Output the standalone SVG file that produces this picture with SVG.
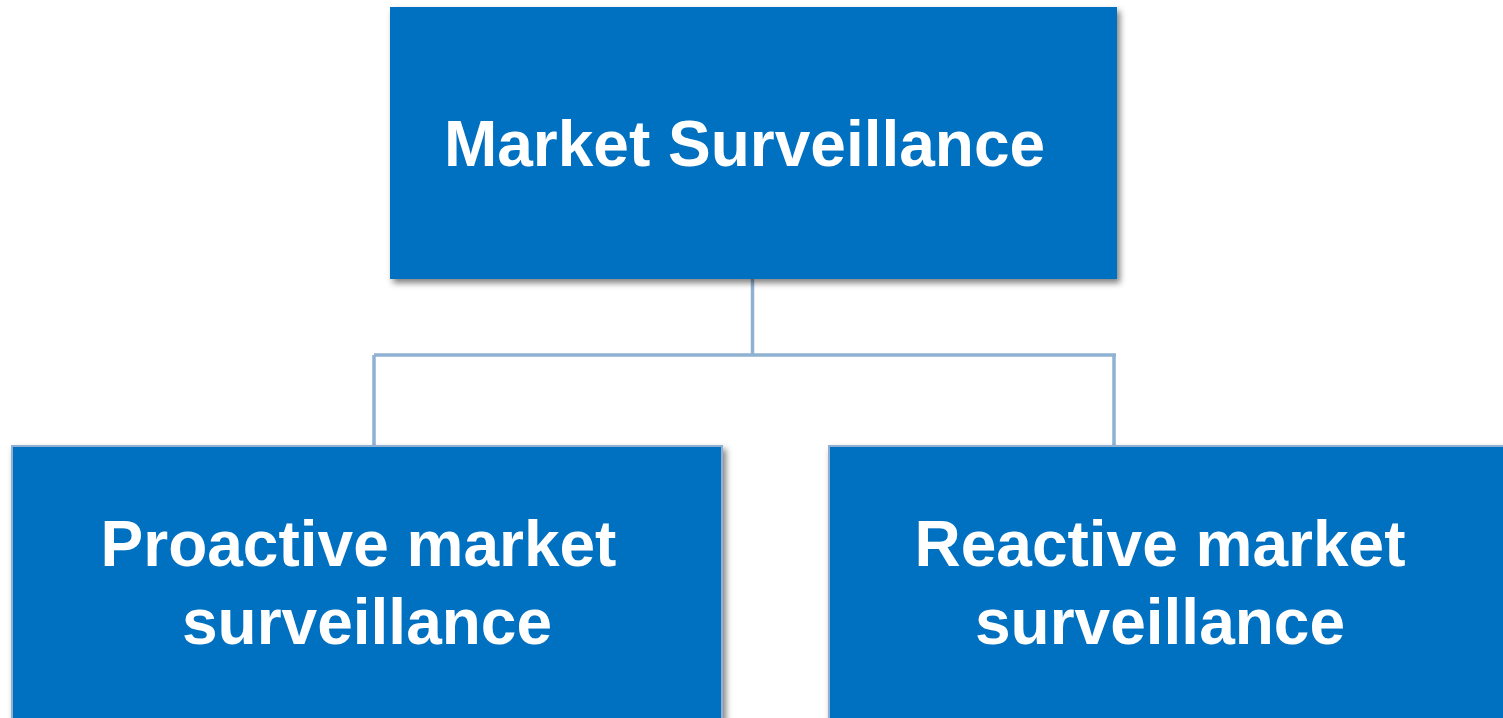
<svg xmlns="http://www.w3.org/2000/svg" width="1503" height="718" viewBox="0 0 1503 718">
<defs>
<filter id="sh" x="-5%" y="-5%" width="115%" height="120%">
<feDropShadow dx="3" dy="4" stdDeviation="3" flood-color="#000" flood-opacity="0.5"/>
</filter>
<style>
.box{fill:#0070c0;filter:url(#sh)}
.bb{stroke:#8fb0d3;stroke-width:2}
.t{font-family:"Liberation Sans",Arial,sans-serif;font-weight:bold;font-size:64px;fill:#fff;text-anchor:middle}
.c{stroke:#8fb1d2;stroke-width:3.5;fill:none}
</style>
</defs>
<rect width="1503" height="718" fill="#fff"/>
<g id="connectors">
<path class="c" d="M752.5 278 V355 M374 355 H1116 M374 355 V450 M1114 355 V446"/>
</g>
<g id="root">
<rect class="box" x="390" y="7" width="727" height="272"/>
<text class="t" x="744.5" y="166">Market Surveillance</text>
</g>
<g id="proactive">
<rect class="box bb" x="12" y="446" width="710" height="280"/>
<text class="t" x="358.5" y="566">Proactive market</text>
<text class="t" x="367" y="644">surveillance</text>
</g>
<g id="reactive">
<rect class="box bb" x="829" y="446" width="690" height="280"/>
<text class="t" x="1160" y="566">Reactive market</text>
<text class="t" x="1160" y="644">surveillance</text>
</g>
</svg>
